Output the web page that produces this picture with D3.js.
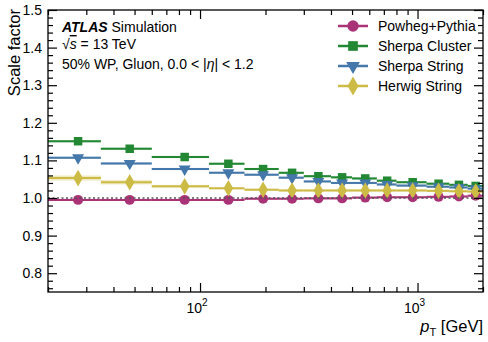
<!doctype html>
<html>
<head>
<meta charset="UTF-8">
<title>Scale factor vs pT</title>
<style>
  body { margin: 0; background: #fff; }
  svg { display: block; font-family: "Liberation Sans", Arial, sans-serif; }
</style>
</head>
<body>
<div id="chart"></div>
<script src="https://cdn.jsdelivr.net/npm/d3@7"></script>
<script>
// bin edges in pT [GeV]
var binEdges = [20, 35, 60, 110, 160, 230, 300, 400, 500, 650, 800, 1100, 1400, 1700, 2000];

var powheg        = [0.995, 0.995, 0.995, 0.995, 0.998, 0.998, 0.999, 0.999, 1.001, 1.002, 1.002, 1.003, 1.004, 1.006];
var sherpaCluster = [1.151, 1.131, 1.109, 1.091, 1.077, 1.067, 1.058, 1.055, 1.052, 1.046, 1.042, 1.038, 1.035, 1.032];
var sherpaString  = [1.107, 1.092, 1.077, 1.067, 1.062, 1.054, 1.044, 1.040, 1.040, 1.036, 1.033, 1.030, 1.028, 1.025];
var herwigString  = [1.053, 1.042, 1.031, 1.026, 1.022, 1.020, 1.020, 1.020, 1.020, 1.020, 1.020, 1.019, 1.018, 1.017];

// stat. uncertainty (half width of band)
var powhegErr        = [0.003, 0.003, 0.003, 0.003, 0.003, 0.003, 0.003, 0.003, 0.003, 0.003, 0.003, 0.003, 0.003, 0.003];
var sherpaClusterErr = [0.003, 0.003, 0.003, 0.003, 0.003, 0.003, 0.003, 0.003, 0.003, 0.003, 0.003, 0.003, 0.003, 0.003];
var sherpaStringErr  = [0.003, 0.003, 0.003, 0.003, 0.003, 0.003, 0.003, 0.003, 0.003, 0.003, 0.003, 0.003, 0.003, 0.003];
var herwigStringErr  = [0.007, 0.006, 0.004, 0.003, 0.003, 0.003, 0.003, 0.003, 0.003, 0.003, 0.003, 0.003, 0.003, 0.003];

var seriesNames = ["Powheg+Pythia", "Sherpa Cluster", "Sherpa String", "Herwig String"];
var seriesColors = ["#aa3377", "#228833", "#4477aa", "#ccbb44"];

var yMajor = [0.8, 0.9, 1.0, 1.1, 1.2, 1.3, 1.4, 1.5];
var xMajor = [100, 1000];

var W = 488, H = 342;
var margin = { left: 48, right: 5, top: 10, bottom: 50 };
var pw = W - margin.left - margin.right;
var ph = H - margin.top - margin.bottom;

var x = d3.scaleLog().domain([20, 2000]).range([0, pw]);
var y = d3.scaleLinear().domain([0.75, 1.5]).range([ph, 0]);

var svg = d3.select("#chart").append("svg")
  .attr("width", W).attr("height", H);

var g = svg.append("g")
  .attr("transform", "translate(" + margin.left + "," + margin.top + ")");

svg.append("defs").append("clipPath").attr("id", "clip")
  .append("rect").attr("width", pw).attr("height", ph);

var plot = g.append("g").attr("clip-path", "url(#clip)");

var series = [
  { vals: powheg,        err: powhegErr,        sym: d3.symbolCircle,   size: 78, rot: 0 },
  { vals: sherpaCluster, err: sherpaClusterErr, sym: d3.symbolSquare,   size: 72, rot: 0 },
  { vals: sherpaString,  err: sherpaStringErr,  sym: d3.symbolTriangle, size: 62, rot: 180 },
  { vals: herwigString,  err: herwigStringErr,  sym: d3.symbolDiamond,  size: 80, rot: 0 }
];
series.forEach(function(s, i) { s.name = seriesNames[i]; s.color = seriesColors[i]; });

var bins = d3.range(binEdges.length - 1).map(function(i) {
  return { lo: binEdges[i], hi: binEdges[i + 1], mid: (binEdges[i] + binEdges[i + 1]) / 2 };
});

series.forEach(function(s) {
  var sg = plot.append("g");
  sg.selectAll("rect").data(bins).enter().append("rect")
    .attr("x", function(d) { return x(d.lo); })
    .attr("width", function(d) { return x(d.hi) - x(d.lo); })
    .attr("y", function(d, i) { return y(s.vals[i] + s.err[i]); })
    .attr("height", function(d, i) { return y(s.vals[i] - s.err[i]) - y(s.vals[i] + s.err[i]); })
    .attr("fill", s.color).attr("opacity", 0.3);
  sg.selectAll("line").data(bins).enter().append("line")
    .attr("x1", function(d) { return x(d.lo); })
    .attr("x2", function(d) { return x(d.hi); })
    .attr("y1", function(d, i) { return y(s.vals[i]); })
    .attr("y2", function(d, i) { return y(s.vals[i]); })
    .attr("stroke", s.color).attr("stroke-width", 2);
});
series.forEach(function(s) {
  plot.append("g").selectAll("path").data(bins).enter().append("path")
    .attr("d", d3.symbol().type(s.sym).size(s.size))
    .attr("transform", function(d, i) {
      return "translate(" + x(d.mid) + "," + y(s.vals[i]) + ") rotate(" + s.rot + ")";
    })
    .attr("fill", s.color);
});

// reference line at 1
plot.append("line")
  .attr("x1", 0).attr("x2", pw)
  .attr("y1", y(1)).attr("y2", y(1))
  .attr("stroke", "#555").attr("stroke-width", 1.5)
  .attr("stroke-dasharray", "2,2.5");

// axes
var yMinor = d3.range(0.76, 1.5, 0.02).filter(function(v) {
  return Math.abs(Math.round(v * 10) - v * 10) > 0.01;
});
var xMinor = [];
[10, 100, 1000].forEach(function(dec) {
  for (var m = 2; m <= 9; m++) {
    var v = dec * m;
    if (v >= 20 && v <= 2000) xMinor.push(v);
  }
});

function styleAxis(sel) {
  sel.select(".domain").remove();
  sel.selectAll("line").attr("stroke", "#000").attr("stroke-width", 1.2);
  sel.selectAll("text").attr("font-size", 14).attr("fill", "#000")
    .attr("font-family", '"Liberation Sans", Arial, sans-serif');
}

g.append("g").call(d3.axisLeft(y).tickValues(yMajor).tickSize(-9).tickPadding(6).tickFormat(d3.format(".1f"))).call(styleAxis);
g.append("g").call(d3.axisLeft(y).tickValues(yMinor).tickSize(-5).tickFormat("")).call(styleAxis);
g.append("g").attr("transform", "translate(" + pw + ",0)")
  .call(d3.axisRight(y).tickValues(yMajor).tickSize(-9).tickFormat("")).call(styleAxis);
g.append("g").attr("transform", "translate(" + pw + ",0)")
  .call(d3.axisRight(y).tickValues(yMinor).tickSize(-5).tickFormat("")).call(styleAxis);

g.append("g").attr("transform", "translate(0," + ph + ")")
  .call(d3.axisBottom(x).tickValues(xMajor).tickSize(-9).tickFormat(""))
  .call(styleAxis);
g.append("g").attr("transform", "translate(0," + ph + ")")
  .call(d3.axisBottom(x).tickValues(xMinor).tickSize(-5).tickFormat("")).call(styleAxis);
g.append("g").call(d3.axisTop(x).tickValues(xMajor).tickSize(-9).tickFormat("")).call(styleAxis);
g.append("g").call(d3.axisTop(x).tickValues(xMinor).tickSize(-5).tickFormat("")).call(styleAxis);

// 10^n labels
xMajor.forEach(function(v) {
  var t = g.append("text")
    .attr("x", x(v) - 3).attr("y", ph + 21)
    .attr("text-anchor", "middle").attr("font-size", 14);
  t.append("tspan").text("10");
  t.append("tspan").attr("dy", -7).attr("font-size", 10).text(Math.round(Math.log10(v)));
});

// frame
g.append("rect").attr("width", pw).attr("height", ph)
  .attr("fill", "none").attr("stroke", "#000").attr("stroke-width", 1.3);

// axis titles
svg.append("text")
  .attr("transform", "translate(20," + (margin.top - 1) + ") rotate(-90)")
  .attr("text-anchor", "end").attr("font-size", 16.5).text("Scale factor");

var xt = svg.append("text")
  .attr("x", W - 5).attr("y", 332)
  .attr("text-anchor", "end").attr("font-size", 16.5);
xt.append("tspan").attr("font-style", "italic").text("p");
xt.append("tspan").attr("dy", 4).attr("font-size", 11).text("T");
xt.append("tspan").attr("dy", -4).text(" [GeV]");

// labels
var lab = svg.append("g").attr("font-size", 14);
var l1 = lab.append("text").attr("x", 62).attr("y", 32);
l1.append("tspan").attr("font-weight", "bold").attr("font-style", "italic").text("ATLAS");
l1.append("tspan").text(" Simulation");
var l2 = lab.append("text").attr("x", 62).attr("y", 49);
l2.append("tspan").text("\u221A");
l2.append("tspan").attr("font-style", "italic").attr("text-decoration", "overline").text("s");
l2.append("tspan").text(" =  13 TeV");
var l3 = lab.append("text").attr("x", 62).attr("y", 69);
l3.append("tspan").text("50% WP, Gluon, 0.0 < |");
l3.append("tspan").attr("font-style", "italic").text("\u03B7");
l3.append("tspan").text("| < 1.2");

// legend
var leg = svg.append("g").attr("transform", "translate(338,26)");
series.forEach(function(s, i) {
  var row = leg.append("g").attr("transform", "translate(0," + (i * 20) + ")");
  row.append("line").attr("x1", 0).attr("x2", 30)
    .attr("stroke", s.color).attr("stroke-width", 2.5);
  row.append("path")
    .attr("d", d3.symbol().type(s.sym).size(s.size * 1.3))
    .attr("transform", "translate(15,0) rotate(" + s.rot + ")")
    .attr("fill", s.color);
  row.append("text").attr("x", 40).attr("y", 5).attr("font-size", 14).text(s.name);
});
</script>
</body>
</html>
